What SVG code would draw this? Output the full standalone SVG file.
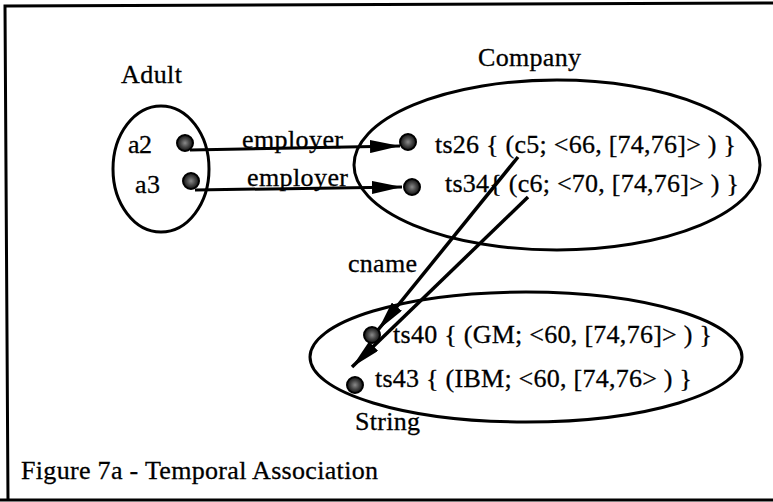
<svg xmlns="http://www.w3.org/2000/svg" width="773" height="502" viewBox="0 0 773 502">
  <style>
    .t { font-family: "Liberation Serif", "Times New Roman", serif; font-size: 26px; fill: #000; stroke: #000; stroke-width: 0.3; }
    .set { fill: none; stroke: #000; stroke-width: 3; }
    .dot { fill: url(#stipple); stroke: #000; stroke-width: 2; }
    .edge { fill: none; stroke: #000; stroke-width: 3; }
    .edge.name { stroke-width: 3.5; }
    .frame { fill: none; stroke: #000; stroke-width: 3; }
  </style>
  <defs>
    <radialGradient id="stipple">
      <stop offset="0" stop-color="#8a8a8a"/>
      <stop offset="0.55" stop-color="#444"/>
      <stop offset="1" stop-color="#111"/>
    </radialGradient>
    <marker id="head" viewBox="0 0 30 13" refX="30" refY="6.5" markerWidth="30" markerHeight="13" markerUnits="userSpaceOnUse" orient="auto">
      <path d="M0,0 L30,6.5 L0,13 z" fill="#000"/>
    </marker>
  </defs>
  <rect width="773" height="502" fill="#fff"/>

  <!-- frame: left, top and bottom rules -->
  <polyline class="frame" points="8,500 5,6 773,3"/>
  <line class="frame" x1="0" y1="500" x2="773" y2="500"/>

  <g id="adult">
    <ellipse class="set" cx="161" cy="169" rx="48" ry="63"/>
    <text class="t" x="121" y="83" textLength="61">Adult</text>
    <text class="t" x="128" y="153" textLength="24">a2</text>
    <text class="t" x="135" y="193" textLength="25">a3</text>
    <circle class="dot" cx="185" cy="143" r="8"/>
    <circle class="dot" cx="191" cy="181" r="8"/>
  </g>

  <g id="company">
    <ellipse class="set" cx="557" cy="165" rx="203" ry="85"/>
    <text class="t" x="478" y="66" textLength="103">Company</text>
    <circle class="dot" cx="408" cy="142" r="8"/>
    <circle class="dot" cx="412" cy="187" r="8"/>
    <text class="t" x="435" y="153" textLength="301">ts26 { (c5; &lt;66, [74,76]&gt; ) }</text>
    <text class="t" x="445" y="192" textLength="294">ts34{ (c6; &lt;70, [74,76]&gt; ) }</text>
  </g>

  <g id="string">
    <ellipse class="set" cx="526" cy="357" rx="216" ry="65"/>
    <text class="t" x="355" y="430" textLength="65">String</text>
    <circle class="dot" cx="372" cy="335" r="8"/>
    <circle class="dot" cx="355" cy="385" r="8"/>
    <text class="t" x="393" y="343" textLength="319">ts40 { (GM; &lt;60, [74,76]&gt; ) }</text>
    <text class="t" x="375" y="387" textLength="317">ts43 { (IBM; &lt;60, [74,76&gt; ) }</text>
  </g>

  <g id="connectors">
    <line class="edge" x1="190" y1="150" x2="400" y2="146" marker-end="url(#head)"/>
    <line class="edge" x1="195" y1="190" x2="402" y2="187" marker-end="url(#head)"/>
    <line class="edge name" x1="518" y1="157" x2="378" y2="330" marker-end="url(#head)"/>
    <line class="edge name" x1="528" y1="197" x2="352" y2="367" marker-end="url(#head)"/>
    <text class="t" x="242" y="148" textLength="101">employer</text>
    <text class="t" x="247" y="186" textLength="101">employer</text>
    <text class="t" x="348" y="272" textLength="69">cname</text>
  </g>

  <text class="t" x="21" y="479" textLength="357">Figure 7a - Temporal Association</text>
</svg>
